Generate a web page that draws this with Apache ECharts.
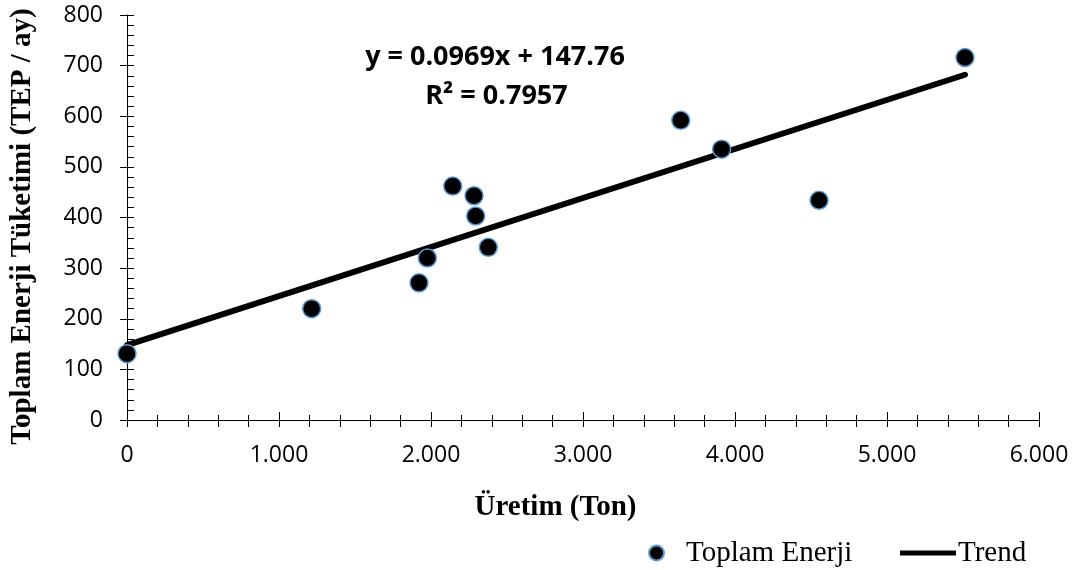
<!DOCTYPE html>
<html>
<head>
<meta charset="utf-8">
<script src="https://cdn.jsdelivr.net/npm/echarts@6/dist/echarts.min.js"></script>
<style>
html,body{margin:0;padding:0;background:#fff;}
#chart{width:1076px;height:570px;}
</style>
</head>
<body>
<div id="chart"></div>
<script>
// Data
const production = [0, 1215, 1921, 1976, 2143, 2283, 2294, 2377, 3643, 3912, 4553, 5513];
const energy = [131, 220, 271, 320, 462, 443, 403, 341, 592, 535, 434, 716];
const trendX = [0, 5513];
const trendY = [147.8, 682.0];
const xTickLabels = ['0', '1.000', '2.000', '3.000', '4.000', '5.000', '6.000'];
const yTickLabels = ['0', '100', '200', '300', '400', '500', '600', '700', '800'];
const seriesNames = ['Toplam Enerji', 'Trend'];
const axisNames = ['Üretim (Ton)', 'Toplam Enerji Tüketimi (TEP / ay)'];
const equationText = ['y = 0.0969x + 147.76', 'R² = 0.7957'];

const scatterData = production.map((x, i) => [x, energy[i]]);
const trendData = trendX.map((x, i) => [x, trendY[i]]);

const serif = 'Liberation Serif';
const sans = 'Open Sans';

const chart = echarts.init(document.getElementById('chart'), null, {renderer: 'canvas'});
chart.setOption({
  animation: false,
  backgroundColor: '#fff',
  grid: {left: 127, right: 37, top: 15, bottom: 150, containLabel: false, outerBoundsMode: 'none'},
  xAxis: [{
    type: 'value', min: 0, max: 6000, interval: 1000,
    axisLine: {show: true, lineStyle: {color: '#000', width: 1}},
    axisTick: {show: true, inside: false, length: 7, lineStyle: {color: '#000'}},
    minorTick: {show: true, splitNumber: 5, length: 7, lineStyle: {color: '#000'}},
    splitLine: {show: false},
    axisLabel: {
      margin: 24, color: '#000', fontFamily: sans, fontSize: 23,
      formatter: v => xTickLabels[Math.round(v / 1000)]
    },
    name: axisNames[0], nameLocation: 'middle', nameGap: 73,
    nameTextStyle: {fontFamily: serif, fontWeight: 'bold', fontSize: 29, color: '#000', padding: [0, 55, 0, 0]}
  }, {
    type: 'value', min: 0, max: 6000, interval: 1000, position: 'bottom',
    axisLine: {show: false},
    axisTick: {show: true, inside: true, length: 8, lineStyle: {color: '#000'}},
    minorTick: {show: true, splitNumber: 5, length: 5, lineStyle: {color: '#000'}},
    splitLine: {show: false},
    axisLabel: {show: false}
  }],
  yAxis: [{
    type: 'value', min: 0, max: 800, interval: 100,
    axisLine: {show: true, lineStyle: {color: '#000', width: 1}},
    axisTick: {show: true, inside: false, length: 7, lineStyle: {color: '#000'}},
    minorTick: {show: false},
    splitLine: {show: false},
    axisLabel: {
      margin: 24, color: '#000', fontFamily: sans, fontSize: 23,
      formatter: v => yTickLabels[Math.round(v / 100)]
    },
    name: axisNames[1], nameLocation: 'middle', nameGap: 90,
    nameTextStyle: {fontFamily: serif, fontWeight: 'bold', fontSize: 29, color: '#000', padding: [0, 18, 0, 0]}
  }, {
    type: 'value', min: 0, max: 800, interval: 100, position: 'left', offset: 0,
    axisLine: {show: false},
    axisTick: {show: true, inside: true, length: 7, lineStyle: {color: '#000'}},
    minorTick: {show: true, splitNumber: 5, length: 7, lineStyle: {color: '#000'}},
    splitLine: {show: false},
    axisLabel: {show: false}
  }],
  legend: [{
    data: [seriesNames[0]],
    left: 648, top: 538.5, padding: 0,
    itemWidth: 15, itemHeight: 15,
    textStyle: {fontFamily: serif, fontSize: 29, color: '#000', padding: [0, 0, 0, 17]}
  }, {
    data: [{name: seriesNames[1], icon: 'rect', itemStyle: {color: '#000'}}],
    left: 900, top: 538.5, padding: 0,
    itemWidth: 56, itemHeight: 5,
    textStyle: {fontFamily: serif, fontSize: 29, color: '#000', padding: [0, 0, 0, -3]}
  }],
  graphic: [{
    type: 'text', x: 495, y: 57.5, z: 10,
    style: {text: equationText[0], fontFamily: sans, fontWeight: 'bold', fontSize: 27, fill: '#000', align: 'center', verticalAlign: 'middle'}
  }, {
    type: 'text', x: 496.5, y: 96, z: 10,
    style: {text: equationText[1], fontFamily: sans, fontWeight: 'bold', fontSize: 27, fill: '#000', align: 'center', verticalAlign: 'middle'}
  }],
  series: [{
    name: seriesNames[1],
    type: 'line',
    data: trendData,
    symbol: 'none',
    z: 1,
    lineStyle: {color: '#000', width: 6, cap: 'round'},
    itemStyle: {color: '#000'}
  }, {
    name: seriesNames[0],
    type: 'scatter',
    data: scatterData,
    symbol: 'circle',
    symbolSize: 18,
    z: 3,
    itemStyle: {color: '#000', borderColor: '#5B9BD5', borderWidth: 1.5, opacity: 1}
  }]
});
</script>
</body>
</html>
